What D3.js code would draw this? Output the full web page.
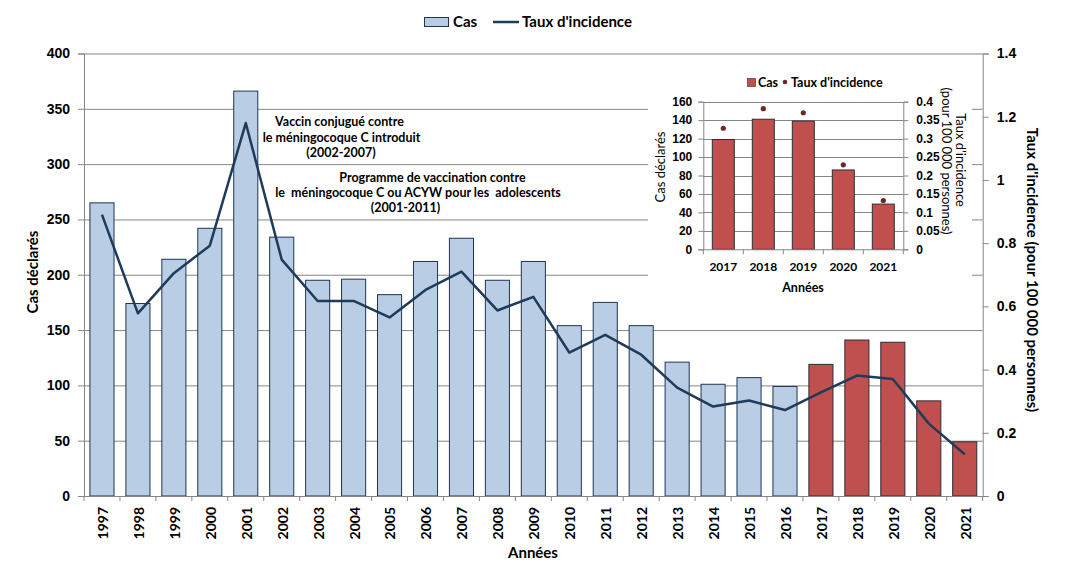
<!DOCTYPE html>
<html><head><meta charset="utf-8">
<script src="https://cdn.jsdelivr.net/npm/d3@7/dist/d3.min.js"></script>
<style>
html,body{margin:0;padding:0;background:#fff;}
svg{display:block;font-family:Lato,"Open Sans",sans-serif;}
</style></head>
<body>
<svg id="c" width="1067" height="583"></svg>
<script>
const years = [1997,1998,1999,2000,2001,2002,2003,2004,2005,2006,2007,2008,2009,2010,2011,2012,2013,2014,2015,2016,2017,2018,2019,2020,2021];
const cas = [265,174,214,242,366,234,195,196,182,212,233,195,212,154,175,154,121,101,107,99,119,141,139,86,49];
const taux = [0.89,0.578,0.705,0.792,1.18,0.748,0.617,0.617,0.565,0.652,0.71,0.587,0.63,0.454,0.51,0.447,0.343,0.283,0.302,0.272,0.328,0.381,0.370,0.229,0.132];
const leftTicks = [0,50,100,150,200,250,300,350,400];
const rightTicks = [0,0.2,0.4,0.6,0.8,1,1.2,1.4];
const insetYears = [2017,2018,2019,2020,2021];
const insetLeftTicks = [0,20,40,60,80,100,120,140,160];
const insetRightTicks = [0,0.05,0.1,0.15,0.2,0.25,0.3,0.35,0.4];
const recentFrom = 2017;
const annot1 = ["Vaccin conjugué contre","le méningocoque C introduit","(2002-2007)"];
const annot2 = ["Programme de vaccination contre","le  méningocoque C ou ACYW pour les  adolescents","(2001-2011)"];

const svg = d3.select("#c");
const L = 84, R = 982.7, T = 53.5, B = 496;
const axisCol = "#868686";
const blueFill = "#b9cde5", blueStroke = "#1f3552", redFill = "#c0504d", redStroke = "#2f2a36", lineCol = "#1f3b5a";

const x = d3.scaleBand().domain(years).range([L,R]).paddingInner(0.33).paddingOuter(0.165);
const xb = d3.scaleBand().domain(years).range([L,R]);
const y = d3.scaleLinear().domain([0,400]).range([B,T]);
const y2 = d3.scaleLinear().domain([0,1.4]).range([B,T]);

// gridlines
svg.append("g").selectAll("line").data(leftTicks.filter(d=>d>0)).join("line")
  .attr("x1",L).attr("x2",R).attr("y1",d=>y(d)+0.5).attr("y2",d=>y(d)+0.5)
  .attr("stroke",axisCol).attr("stroke-width",1);

// bars
svg.append("g").selectAll("rect").data(years).join("rect")
  .attr("x",d=>x(d)).attr("width",x.bandwidth())
  .attr("y",(d,i)=>y(cas[i])).attr("height",(d,i)=>B-y(cas[i]))
  .attr("fill",d=>d>=recentFrom?redFill:blueFill)
  .attr("stroke",d=>d>=recentFrom?redStroke:blueStroke).attr("stroke-width",1);

// line
const line = d3.line().x((d,i)=>xb(years[i])+xb.bandwidth()/2).y(d=>y2(d));
svg.append("path").datum(taux).attr("d",line).attr("fill","none")
  .attr("stroke",lineCol).attr("stroke-width",2.5).attr("stroke-linejoin","round");

// axes
const fmt = d => String(+d.toFixed(2));
const gL = svg.append("g").attr("transform",`translate(${L},0)`)
  .call(d3.axisLeft(y).tickValues(leftTicks).tickSize(6).tickPadding(8));
const gR = svg.append("g").attr("transform",`translate(${R},0)`)
  .call(d3.axisRight(y2).tickValues(rightTicks).tickFormat(fmt).tickSize(6).tickPadding(8));
[gL,gR].forEach(g=>{
  g.select(".domain").attr("stroke",axisCol);
  g.selectAll(".tick line").attr("stroke",axisCol);
  g.selectAll("text").attr("font-size",14).attr("font-weight","bold").attr("fill","#000");
});
// x axis
const gX = svg.append("g");
gX.append("line").attr("x1",L).attr("x2",R).attr("y1",B+0.5).attr("y2",B+0.5).attr("stroke",axisCol);
gX.selectAll("line.t").data(years.concat(["end"])).join("line").attr("class","t")
  .attr("x1",(d,i)=>L+i*xb.step()).attr("x2",(d,i)=>L+i*xb.step())
  .attr("y1",B).attr("y2",B+5).attr("stroke",axisCol);
gX.selectAll("text").data(years).join("text")
  .attr("transform",d=>`translate(${xb(d)+xb.bandwidth()/2+1},507) rotate(-90)`)
  .attr("text-anchor","end").attr("dy","0.35em")
  .attr("font-size",14).attr("font-weight","bold").text(d=>d);

// axis titles
svg.append("text").attr("transform","translate(37.5,272) rotate(-90)").attr("text-anchor","middle")
  .attr("font-size",15).attr("font-weight","bold").text("Cas déclarés");
svg.append("text").attr("transform","translate(1027,270) rotate(90)").attr("text-anchor","middle")
  .attr("font-size",15).attr("font-weight","bold").text("Taux d'incidence (pour 100 000 personnes)");
svg.append("text").attr("x",533).attr("y",558).attr("text-anchor","middle")
  .attr("font-size",15).attr("font-weight","bold").text("Années");

// legend
const lg = svg.append("g");
lg.append("rect").attr("x",424.5).attr("y",17.5).attr("width",24).attr("height",9).attr("fill",blueFill).attr("stroke",blueStroke);
lg.append("text").attr("x",453).attr("y",27).attr("font-size",15).attr("font-weight","bold").text("Cas");
lg.append("line").attr("x1",493).attr("x2",519).attr("y1",22).attr("y2",22).attr("stroke",lineCol).attr("stroke-width",2.5);
lg.append("text").attr("x",522).attr("y",27).attr("font-size",15).attr("font-weight","bold").text("Taux d'incidence");

// annotations
const a1c = [339.5,341.5,341], a1y = [122,138,153];
svg.append("g").selectAll("text").data(annot1).join("text")
  .attr("x",(d,i)=>a1c[i]).attr("y",(d,i)=>a1y[i]).attr("dy","0.35em").attr("text-anchor","middle")
  .attr("font-size",12.5).attr("font-weight","bold").style("white-space","pre").text(d=>d);
const a2c = [432.5,418,405.5], a2y = [178,193,208];
svg.append("g").selectAll("text").data(annot2).join("text")
  .attr("x",(d,i)=>a2c[i]).attr("y",(d,i)=>a2y[i]).attr("dy","0.35em").attr("text-anchor","middle")
  .attr("font-size",12.5).attr("font-weight","bold").style("white-space","pre").text(d=>d);

// inset
const IL = 703.3, IR = 903.3, IT = 101.7, IB = 249.3;
const ins = svg.append("g");
ins.append("rect").attr("x",648).attr("y",62).attr("width",324).attr("height",230).attr("fill","#fff");
const ix = d3.scaleBand().domain(insetYears).range([IL,IR]).paddingInner(0.45).paddingOuter(0.225);
const ixb = d3.scaleBand().domain(insetYears).range([IL,IR]);
const iy = d3.scaleLinear().domain([0,160]).range([IB,IT]);
const iy2 = d3.scaleLinear().domain([0,0.4]).range([IB,IT]);
const iCas = insetYears.map(yr=>cas[years.indexOf(yr)]);
const iTaux = insetYears.map(yr=>taux[years.indexOf(yr)]);
ins.append("g").selectAll("line").data(insetLeftTicks.filter(d=>d>0)).join("line")
  .attr("x1",IL).attr("x2",IR).attr("y1",d=>Math.round(iy(d))+0.5).attr("y2",d=>Math.round(iy(d))+0.5)
  .attr("stroke",axisCol);
ins.append("g").selectAll("rect").data(insetYears).join("rect")
  .attr("x",d=>ix(d)).attr("width",ix.bandwidth())
  .attr("y",(d,i)=>iy(iCas[i])).attr("height",(d,i)=>IB-iy(iCas[i]))
  .attr("fill",redFill).attr("stroke",redStroke);
ins.append("g").selectAll("circle").data(insetYears).join("circle")
  .attr("cx",d=>ixb(d)+ixb.bandwidth()/2).attr("cy",(d,i)=>iy2(iTaux[i])).attr("r",2.6)
  .attr("fill","#6b2a28");
const iL = ins.append("g").attr("transform",`translate(${IL},0)`)
  .call(d3.axisLeft(iy).tickValues(insetLeftTicks).tickSize(5).tickPadding(6));
const iR = ins.append("g").attr("transform",`translate(${IR},0)`)
  .call(d3.axisRight(iy2).tickValues(insetRightTicks).tickFormat(fmt).tickSize(5).tickPadding(8));
[iL,iR].forEach(g=>{
  g.select(".domain").attr("stroke",axisCol);
  g.selectAll(".tick line").attr("stroke",axisCol);
  g.selectAll("text").attr("font-size",12).attr("font-weight","bold").attr("fill","#000");
});
ins.append("line").attr("x1",IL).attr("x2",IR).attr("y1",IB+0.5).attr("y2",IB+0.5).attr("stroke",axisCol);
ins.selectAll("line.it").data(insetYears.concat(["end"])).join("line").attr("class","it")
  .attr("x1",(d,i)=>IL+i*ixb.step()).attr("x2",(d,i)=>IL+i*ixb.step())
  .attr("y1",IB).attr("y2",IB+5).attr("stroke",axisCol);
ins.selectAll("text.ix").data(insetYears).join("text").attr("class","ix")
  .attr("x",d=>ixb(d)+ixb.bandwidth()/2).attr("y",267).attr("dy","0.35em").attr("text-anchor","middle")
  .attr("font-size",12).attr("font-weight","bold").text(d=>d);
ins.append("text").attr("x",803).attr("y",288).attr("dy","0.35em").attr("text-anchor","middle")
  .attr("font-size",12.5).attr("font-weight","bold").text("Années");
ins.append("text").attr("transform","translate(665,167) rotate(-90)").attr("text-anchor","middle")
  .attr("font-size",13).text("Cas déclarés");
ins.append("text").attr("transform","translate(956,160) rotate(90)").attr("text-anchor","middle")
  .attr("font-size",13).text("Taux d'incidence");
ins.append("text").attr("transform","translate(942,161) rotate(90)").attr("text-anchor","middle")
  .attr("font-size",13).text("(pour 100 000 personnes)");
// inset legend
ins.append("rect").attr("x",747.5).attr("y",78.5).attr("width",8).attr("height",8).attr("fill",redFill).attr("stroke",redStroke).attr("stroke-width",0.6);
ins.append("text").attr("x",758).attr("y",87).attr("font-size",12.5).attr("font-weight","bold").text("Cas");
ins.append("circle").attr("cx",785).attr("cy",82).attr("r",2.3).attr("fill","#6b2a28");
ins.append("text").attr("x",791).attr("y",87).attr("font-size",12.5).attr("font-weight","bold").text("Taux d'incidence");
</script>
</body></html>
